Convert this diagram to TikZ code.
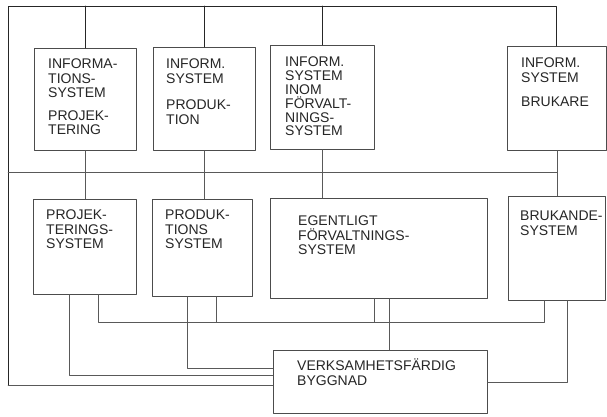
\documentclass[tikz,border=0pt]{standalone}
\usepackage{fontspec}
\setmainfont{Liberation Sans}
\begin{document}
\begin{tikzpicture}[x=1pt,y=-1pt, line join=round, line cap=round,
	box/.style={draw=black!70, line width=0.5pt, anchor=north west, inner sep=0pt},
	txt/.style={anchor=north west, inner sep=0pt, align=left, font=\fontsize{14}{14.5}\selectfont, text=black!85},
	bus/.style={draw=black!85, line width=0.9pt},
	link/.style={draw=black!65, line width=0.5pt}]
				\fill[white] (0,0) rectangle (607,416);
				\useasboundingbox (0,0) rectangle (607,416);
				% upper row
				\node[box, minimum width=102pt, minimum height=102pt] (b1) at (34,48) {};
				\node[box, minimum width=102pt, minimum height=103pt] (b2) at (153,47) {};
				\node[box, minimum width=104pt, minimum height=104pt] (b3) at (270,45) {};
				\node[box, minimum width=99pt, minimum height=104pt] (b4) at (507,46) {};
				% lower row
				\node[box, minimum width=103pt, minimum height=95pt] (b5) at (33,199) {};
				\node[box, minimum width=100pt, minimum height=97pt] (b6) at (152,199) {};
				\node[box, minimum width=217pt, minimum height=100pt] (b7) at (270,198) {};
				\node[box, minimum width=97pt, minimum height=104pt] (b8) at (508,196) {};
				\node[box, minimum width=214pt, minimum height=63pt] (b9) at (273,350) {};
				% texts
				\node[txt] (t1) at ([shift={(14,11)}]b1.north west) {INFORMA-\\TIONS-\\SYSTEM\\[8pt]PROJEK-\\TERING};
				\node[txt] (t2) at ([shift={(13,12)}]b2.north west) {INFORM.\\SYSTEM\\[12pt]PRODUK-\\TION};
				\node[txt, font=\fontsize{14}{13.8}\selectfont] (t3) at ([shift={(15,12)}]b3.north west) {INFORM.\\SYSTEM\\INOM\\FÖRVALT-\\NINGS-\\SYSTEM};
				\node[txt] (t4) at ([shift={(14,12)}]b4.north west) {INFORM.\\SYSTEM\\[10pt]BRUKARE};
				\node[txt] (t5) at ([shift={(13,11)}]b5.north west) {PROJEK-\\TERINGS-\\SYSTEM};
				\node[txt] (t6) at ([shift={(13,11)}]b6.north west) {PRODUK-\\TIONS\\SYSTEM};
				\node[txt] (t7) at ([shift={(28,18)}]b7.north west) {EGENTLIGT\\FÖRVALTNINGS-\\SYSTEM};
				\node[txt] (t8) at ([shift={(12,15)}]b8.north west) {BRUKANDE-\\SYSTEM};
				\node[txt] (t9) at ([shift={(24,9)}]b9.north west) {VERKSAMHETSFÄRDIG\\BYGGNAD};
				% frame lines
				\coordinate (tl) at (8,6);
				\coordinate (bl) at (8,385);
				\coordinate (ml) at (8,172);
				\draw[bus] (bl) -- (tl) -| (b4.north);
				\draw[bus] (b1.north) -- (b1.north |- tl);
				\draw[bus] (b2.north) -- (b2.north |- tl);
				\draw[bus] (b3.north) -- (b3.north |- tl);
				\draw[link] (bl) -- (bl -| b9.west);
				\draw[link] (ml) -- (ml -| b4.south);
				\draw[link] (b4.south) -- (b8.north);
				\draw[link] (b1.south) -- (b1.south |- b5.north);
				\draw[link] (b2.south) -- (b2.south |- b6.north);
				\draw[link] (b3.south) -- (b3.south |- b7.north);
				% lower connections
				\coordinate (p1) at (98,322);
				\coordinate (p2) at (216,322);
				\coordinate (p3) at (374,322);
				\coordinate (p4) at (544,322);
				\coordinate (p5) at (389,0);
				\draw[link] (p1 |- b5.south) -- (p1) -- (p4) -- (p4 |- b8.south);
				\draw[link] (p2 |- b6.south) -- (p2);
				\draw[link] (p3 |- b7.south) -- (p3);
				\draw[link] (p5 |- b7.south) -- (p5 |- b9.north);
				\coordinate (q1) at (69,375);
				\coordinate (q2) at (187,368);
				\coordinate (q3) at (567,382);
				\draw[link] (q1 |- b5.south) -- (q1) -- (q1 -| b9.west);
				\draw[link] (q2 |- b6.south) -- (q2) -- (q2 -| b9.west);
				\draw[link] (q3 |- b8.south) -- (q3) -- (q3 -| b9.east);
\end{tikzpicture}
\end{document}
